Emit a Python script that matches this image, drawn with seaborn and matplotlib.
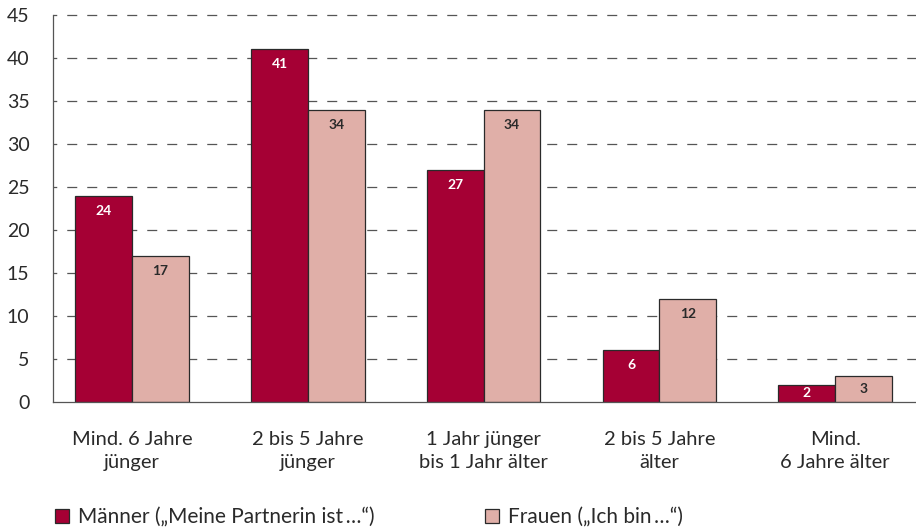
import matplotlib
matplotlib.use("Agg")
import matplotlib.pyplot as plt
import seaborn as sns
import pandas as pd
from matplotlib.patches import Patch

categories = ["Mind. 6 Jahre\njünger", "2 bis 5 Jahre\njünger", "1 Jahr jünger\nbis 1 Jahr älter",
              "2 bis 5 Jahre\nälter", "Mind.\n6 Jahre älter"]
series_names = ["Männer (\u201eMeine Partnerin ist\u2009\u2026\u201c)", "Frauen (\u201eIch bin\u2009\u2026\u201c)"]
maenner = [24, 41, 27, 6, 2]
frauen = [17, 34, 34, 12, 3]
yticks = [0, 5, 10, 15, 20, 25, 30, 35, 40, 45]
colors = ["#A50034", "#E0AFA8"]
label_colors = ["white", "#2a2a2a"]

df = pd.DataFrame({
    "cat": categories * 2,
    "series": [series_names[0]] * 5 + [series_names[1]] * 5,
    "value": maenner + frauen,
})

sns.set_theme(style="white")
plt.rcParams["font.family"] = ["Lato", "DejaVu Sans"]
text_color = "#2a2a2a"

fig = plt.figure(figsize=(9.16, 5.30), dpi=100)
ax = fig.add_axes([53 / 916, 128 / 530, 1 - 53 / 916, (402 - 15) / 530])

sns.barplot(data=df, x="cat", y="value", hue="series", hue_order=series_names,
            order=categories, palette=colors, width=0.645, edgecolor="#2a2a2a",
            linewidth=0.9, saturation=1, ax=ax, legend=False)

ax.set_ylim(0, 45)
ax.set_xlim(-0.45, 4.46)
ax.set_yticks(yticks)
ax.set_yticklabels([str(t) for t in yticks], fontsize=14, color=text_color)
ax.tick_params(axis="y", length=11, width=0.9, color="#555555", pad=6)
ax.tick_params(axis="x", length=12, width=0.9, color="#2a2a2a", pad=9, labelsize=14.5, labelcolor=text_color)
for lab in ax.get_xticklabels():
    lab.set_linespacing(1.4)
ax.set_xlabel("")
ax.set_ylabel("")
for s in ["top", "right"]:
    ax.spines[s].set_visible(False)
ax.spines["left"].set_color("#555555")
ax.spines["left"].set_linewidth(0.9)
ax.spines["bottom"].set_color("#555555")
ax.spines["bottom"].set_linewidth(0.9)
ax.set_axisbelow(True)
for t in yticks[1:]:
    ax.axhline(t, color="#555555", lw=0.9, linestyle=(5, (8, 8)), zorder=0.5, clip_on=False)

for ci, cont in enumerate(ax.containers):
    for bar, v in zip(cont, [maenner, frauen][ci]):
        x = bar.get_x() + bar.get_width() / 2
        y = max(v - 1.75, v / 2)
        ax.text(x, y, str(v), ha="center", va="center", fontsize=10, fontweight="bold",
                color=label_colors[ci])

handles = [Patch(facecolor=colors[i], edgecolor="#2a2a2a", linewidth=0.9) for i in range(2)]
fig.legend(handles, series_names, loc="lower left", bbox_to_anchor=(0.04, -0.03), ncol=2,
           frameon=False, fontsize=15, handlelength=0.65, handleheight=0.65, handletextpad=0.45,
           columnspacing=5.3, labelcolor=text_color)

fig.savefig("out.png", dpi=100)
